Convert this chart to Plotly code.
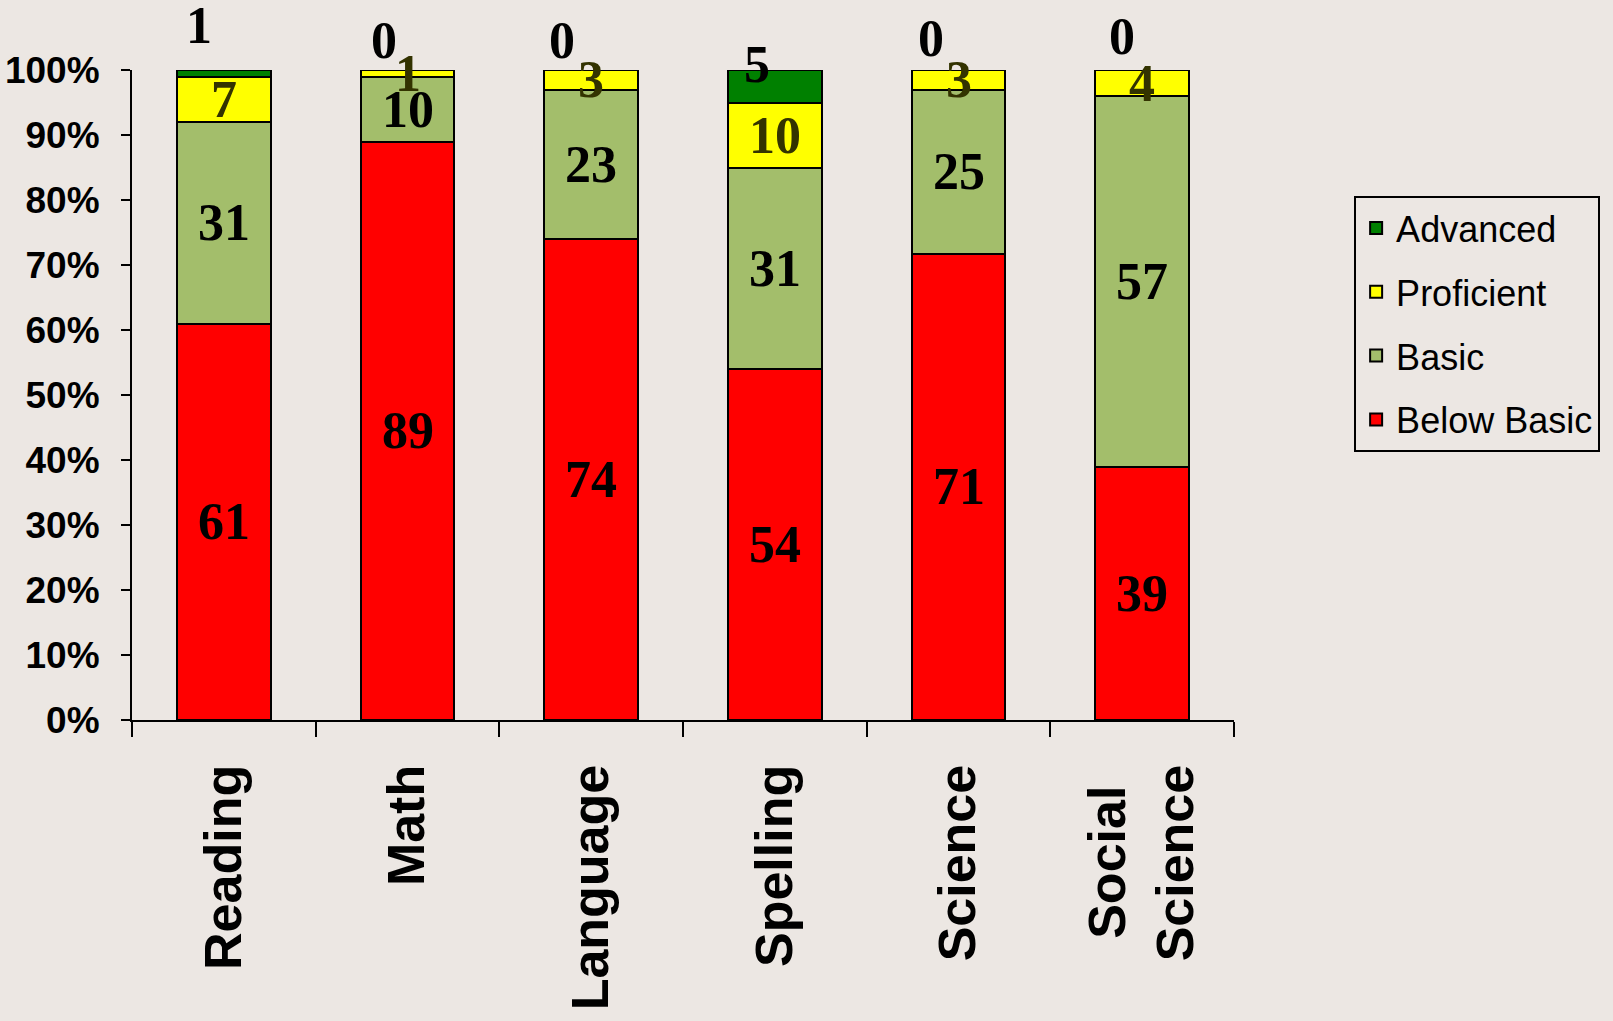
import plotly.graph_objects as go

categories = ["Reading", "Math", "Language", "Spelling", "Science", "Social Science"]
tick_text = ["Reading", "Math", "Language", "Spelling", "Science", "Social\u2009\u2009<br>Science"]
below_basic = [61, 89, 74, 54, 71, 39]
basic = [31, 10, 23, 31, 25, 57]
proficient = [7, 1, 3, 10, 3, 4]
advanced = [1, 0, 0, 5, 0, 0]
y_ticks = [0, 10, 20, 30, 40, 50, 60, 70, 80, 90, 100]
y_tick_labels = [f"{v}%" for v in y_ticks]

# label nudges for the top (Advanced) labels, in pixels (style only)
adv_xshift = [-25, -24, -29, -18, -28, -20]
adv_yshift = [48, 30, 30, 22, 32, 34]

BG = "#ECE7E3"
series = [
    ("Below Basic", below_basic, "#FF0000", "black", 4),
    ("Basic", basic, "#A3BE6B", "black", 3),
    ("Proficient", proficient, "#FFFF00", "#333300", 2),
    ("Advanced", advanced, "#008000", "black", 1),
]

fig = go.Figure()
for name, vals, color, _, rank in series:
    fig.add_trace(go.Bar(
        x=categories, y=vals, name=name, legendgroup=name, legendrank=rank,
        marker=dict(color=color, line=dict(color="black", width=2)),
        width=0.51, hoverinfo="skip",
    ))

# annotations at segment centers (computed from normalised data)
totals = [sum(s[1][i] for s in series) for i in range(len(categories))]
label_font = dict(family="Liberation Serif, Times New Roman, serif", size=52, weight="bold")
for i, cat in enumerate(categories):
    cum = 0.0
    for name, vals, color, tcolor, _ in series:
        h = vals[i] / totals[i] * 100
        center = cum + h / 2
        cum += h
        xs, ys = 0, 0
        if name == "Advanced":
            xs, ys = adv_xshift[i], adv_yshift[i]
        fig.add_annotation(
            x=cat, y=center, text=str(vals[i]), showarrow=False,
            xshift=xs, yshift=ys, font=dict(label_font, color=tcolor),
        )

fig.update_layout(
    width=1613, height=1021,
    barmode="stack", barnorm="percent",
    paper_bgcolor=BG, plot_bgcolor=BG,
    margin=dict(l=132, r=379, t=70, b=301, autoexpand=False),
    showlegend=True,
    legend=dict(
        x=1.109, y=0.806, xanchor="left", yanchor="top",
        traceorder="grouped", tracegroupgap=14,
        bordercolor="black", borderwidth=2, bgcolor=BG,
        font=dict(family="Liberation Sans, Arial, sans-serif", size=36, color="black"),
    ),
    font=dict(family="Liberation Sans, Arial, sans-serif", color="black"),
)
fig.update_xaxes(
    type="category", range=[-0.5, 5.5], automargin=False,
    tickvals=categories, ticktext=tick_text,
    showline=True, linecolor="black", linewidth=2,
    ticks="outside", tickson="boundaries", ticklen=15, tickwidth=2, tickcolor="black",
    tickangle=-90, ticklabelstandoff=22,
    tickfont=dict(family="Liberation Sans, Arial, sans-serif", size=52, weight="bold", color="black"),
    showgrid=False,
)
fig.update_yaxes(
    range=[0, 100], tickvals=y_ticks, ticktext=y_tick_labels, automargin=False,
    showline=True, linecolor="black", linewidth=2,
    ticks="outside", ticklen=9, tickwidth=2, tickcolor="black",
    ticklabelstandoff=14,
    tickfont=dict(family="Liberation Sans, Arial, sans-serif", size=37, weight="bold", color="black"),
    showgrid=False, zeroline=False,
)

fig.write_html(
    "out.html",
    config={"displayModeBar": False},
    post_script="document.body.style.margin='0';document.body.style.overflow='hidden';",
)
